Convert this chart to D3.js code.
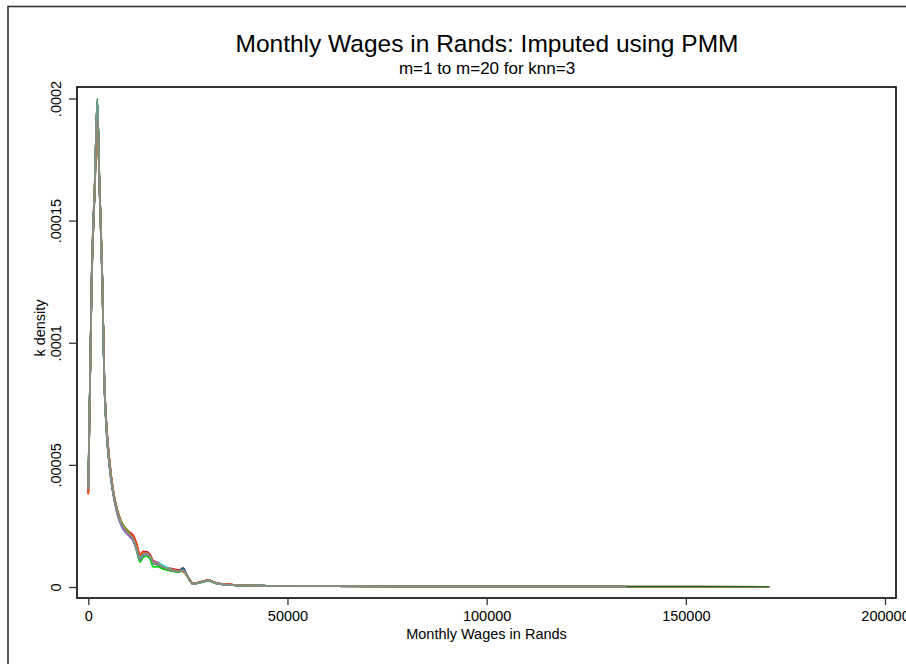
<!DOCTYPE html>
<html>
<head>
<meta charset="utf-8">
<script src="https://cdn.jsdelivr.net/npm/d3@7"></script>
<style>
  html, body { margin: 0; padding: 0; background: #fff; }
  svg { display: block; font-family: "Liberation Sans", Arial, Helvetica, sans-serif; }
</style>
</head>
<body>
<svg id="chart" width="906" height="664"></svg>
<script>
// Evaluation grid (monthly wage, Rands) shared by all imputed density curves
const wages = [0, 850, 1680, 2260, 2760, 3510, 4010, 4610, 5270, 6270, 7300, 8400, 9400, 10300,
  11300, 12100, 13000, 13800, 14600, 15500, 16300, 17200, 18800, 20500, 22500, 23800, 25100,
  26300, 28000, 30100, 32200, 36400, 44800, 60000, 90000, 135000, 171000];

// Kernel density per imputation, in millionths (density x 1e6); null = beyond that imputation's max wage
const m01 = [41, 125, 166, 198, 168, 127, 87, 65, 52, 39, 30.5, 25, 22.5, 21, 19, 15.5, 11, 13, 13.5, 12, 9.8, 9.2, 7.8, 6.8, 6.4, 7.8, 3.6, 1.2, 1.8, 2.5, 1.4, 0.8, 0.5, 0.3, 0.2, 0.15, null];
const m02 = [39, 127, 168, 199, 166, 125, 86, 66, 53, 39.5, 31.5, 26.5, 24, 22.5, 20.5, 17, 12.5, 14.2, 14.4, 13.2, 10.6, 10, 8.4, 7.3, 6.6, 6.6, 3.9, 1.4, 2, 2.7, 1.6, 0.9, 0.5, 0.3, 0.2, 0.15, null];
const m03 = [40, 126, 168, 199, 167, 126, 86, 65, 52, 39, 31, 26, 23.5, 22.5, 21, 18, 13.3, 14.6, 14.4, 13.2, 10.7, 10.2, 8.5, 7.6, 7, 6.3, 3.9, 1.4, 2, 2.7, 1.6, 0.9, 0.5, 0.3, 0.2, 0.15, 0.1];
const m04 = [43, 124, 165, 196, 165, 126, 86, 64, 51, 39, 31, 26, 23, 21.8, 19.8, 16.2, 11.8, 13.4, 13.6, 12.6, 10.2, 9.6, 8.1, 7.1, 6.4, 6.7, 3.8, 1.3, 1.9, 2.6, 1.5, 0.8, 0.5, 0.3, 0.2, 0.15, null];
const m05 = [40, 126, 167, 199, 167, 126, 85, 64, 51, 38.5, 30.5, 25.5, 23, 21.5, 19.5, 16, 11.5, 13.5, 13.8, 12.5, 10, 9.5, 8, 7, 6.4, 6.8, 3.8, 1.3, 1.9, 2.6, 1.5, 0.8, 0.5, 0.3, 0.2, 0.15, null];
const m06 = [38, 128, 169, 198, 166, 125, 84, 64, 52, 39, 31, 25.8, 23.2, 22.4, 20.8, 17.6, 12.9, 14.3, 14.4, 13.1, 10.6, 10.1, 8.4, 7.5, 6.8, 6.6, 3.9, 1.4, 2, 2.8, 1.6, 0.9, 0.5, 0.3, 0.2, 0.15, null];
const m07 = [41, 125, 166, 197, 167, 127, 85, 62, 49.5, 37.5, 29.5, 24.5, 22.3, 20.8, 18.8, 15.4, 10.8, 12.8, 13.3, 12, 9.5, 9.1, 7.7, 6.8, 6.2, 6.9, 3.7, 1.2, 1.8, 2.5, 1.4, 0.8, 0.5, 0.3, 0.2, 0.15, null];
const m08 = [40, 126, 168, 199, 168, 126, 85, 64, 51, 38.5, 30.5, 25.6, 23.1, 21.6, 19.6, 16.1, 11.6, 13.6, 13.9, 12.6, 10.1, 9.5, 8, 7, 6.4, 6.8, 3.8, 1.3, 1.9, 2.6, 1.5, 0.8, 0.5, 0.3, 0.2, 0.15, null];
const m09 = [42, 124, 166, 198, 167, 127, 86, 64, 51, 38.8, 30.8, 25.6, 23, 21.6, 19.8, 16.4, 12, 13.8, 14, 12.7, 10.2, 9.6, 8.1, 7.1, 6.5, 6.7, 3.8, 1.3, 1.9, 2.6, 1.5, 0.8, 0.5, 0.3, 0.2, 0.15, null];
const m10 = [39, 127, 167, 199, 166, 125, 85, 64, 51, 38.4, 30.4, 25.4, 22.9, 21.3, 19.3, 15.9, 11.4, 13.5, 13.8, 12.5, 10, 9.4, 7.9, 7, 6.4, 7, 3.7, 1.2, 1.8, 2.5, 1.5, 0.8, 0.5, 0.3, 0.2, 0.15, null];
const m11 = [41, 126, 167, 199, 167, 126, 85, 64, 51, 38.6, 30.6, 25.5, 23, 21.4, 19.4, 16, 11.6, 13.4, 13.7, 12.4, 10, 9.5, 8, 7, 6.4, 6.8, 3.8, 1.3, 1.9, 2.6, 1.5, 0.8, 0.5, 0.3, 0.2, 0.15, null];
const m12 = [40, 125, 166, 198, 168, 127, 86, 64, 51, 38.5, 30.5, 25.7, 23.3, 21.9, 19.9, 16.3, 11.9, 13.7, 13.9, 12.7, 10.2, 9.6, 8.1, 7.1, 6.4, 6.6, 3.8, 1.3, 1.9, 2.6, 1.5, 0.8, 0.5, 0.3, 0.2, 0.15, null];
const m13 = [41, 126, 167, 199, 167, 126, 85, 64, 51, 38.5, 30.5, 25.5, 23, 21.5, 19.5, 16, 11.5, 13.5, 13.8, 12.5, 10, 9.5, 8, 7, 6.4, 6.8, 3.8, 1.3, 1.9, 2.6, 1.5, 0.8, 0.5, 0.3, 0.2, 0.15, null];
const m14 = [40, 126, 167, 198, 167, 126, 85, 64, 51, 38.5, 30.5, 25.5, 23, 21.5, 19.5, 16, 11.5, 13.5, 13.8, 12.5, 10, 9.5, 8, 7, 6.4, 6.8, 3.8, 1.3, 1.9, 2.6, 1.5, 0.8, 0.5, 0.3, 0.2, 0.15, null];
const m15 = [41, 126, 167, 199, 167, 126, 85, 64, 51, 38.5, 31, 26.3, 23.8, 22.2, 19.4, 15, 10.2, 12.2, 12.6, 11.4, 8.2, 8.3, 7.3, 6.7, 6.1, 6.5, 3.7, 1.3, 1.8, 2.5, 1.4, 0.8, 0.5, 0.3, 0.2, 0.15, null];
const m16 = [42, 126, 167, 200, 169, 127, 85, 63, 50, 38, 30.5, 25.5, 23, 21.5, 19.5, 16, 11.5, 13.6, 13.9, 12.4, 9.9, 9.4, 7.9, 7, 6.4, 6.9, 3.7, 1.3, 1.9, 2.6, 1.5, 0.8, 0.5, 0.3, 0.2, 0.15, 0.1];
const m17 = [39, 125, 166, 198, 167, 126, 85, 64, 50.5, 38, 30, 25, 22.5, 21, 19, 15.6, 11.2, 13.2, 13.5, 12.4, 10.5, 10.3, 8.4, 7.1, 6.4, 6.8, 3.8, 1.3, 1.9, 2.6, 1.5, 0.8, 0.5, 0.3, 0.2, 0.15, null];
const m18 = [41, 126, 167, 199, 167, 126, 85, 64, 51, 38.5, 30.5, 25.5, 23, 21.5, 19.5, 16, 11.5, 13.5, 13.8, 12.5, 10.2, 10, 8.8, 7.5, 6.5, 6.8, 3.8, 1.3, 1.9, 2.6, 1.5, 0.8, 0.5, 0.3, 0.2, 0.15, null];
const m19 = [38, 125, 166, 195, 167, 127, 86, 65, 52, 39, 31, 26, 23.4, 22, 20.4, 17.4, 13, 14.2, 14, 12.8, 10.3, 9.7, 8.1, 7.2, 6.6, 6.5, 3.9, 1.4, 2, 2.7, 1.6, 0.9, 0.5, 0.3, 0.2, 0.15, null];
const m20 = [40, 126, 167, 199, 167, 126, 85, 64, 51, 38.5, 30.5, 25.5, 23, 21.5, 19.5, 16, 11.5, 13.5, 13.8, 12.5, 10, 9.5, 8, 7, 6.4, 6.8, 3.8, 1.3, 1.9, 2.6, 1.5, 0.8, 0.5, 0.3, 0.2, 0.15, null];

const imputations = [m01, m02, m03, m04, m05, m06, m07, m08, m09, m10,
                     m11, m12, m13, m14, m15, m16, m17, m18, m19, m20];

const lineColors = ["#1a476f", "#90353b", "#e8201a", "#e37e00", "#6e8e84",
                    "#c10534", "#938dd2", "#cac27e", "#a0522d", "#7b92a8",
                    "#2d6d66", "#9c8847", "#bfa19c", "#ffd200", "#00dd00",
                    "#1f6b1a", "#c71fc7", "#1fd6d6", "#ff5500", "#7a948e"];

const xTickValues = [0, 50000, 100000, 150000, 200000];
const xTickLabels = ["0", "50000", "100000", "150000", "200000"];
const yTickValues = [0, 0.00005, 0.0001, 0.00015, 0.0002];
const yTickLabels = ["0", ".00005", ".0001", ".00015", ".0002"];

const titleText = "Monthly Wages in Rands: Imputed using PMM";
const subtitleText = "m=1 to m=20 for knn=3";
const xTitleText = "Monthly Wages in Rands";
const yTitleText = "k density";

// ---- layout ----
const frame = { left: 77, top: 87, right: 896, bottom: 598 };
const svg = d3.select("#chart");

svg.append("rect").attr("width", 906).attr("height", 664).attr("fill", "#fff");

// outer graph border (runs off the right and bottom edges)
svg.append("rect")
  .attr("x", 8).attr("y", 6.5).attr("width", 1000).attr("height", 1000)
  .attr("fill", "none").attr("stroke", "#333").attr("stroke-width", 1.6);

const x = d3.scaleLinear().domain([0, 200000]).range([88.3, 885]);
const y = d3.scaleLinear().domain([0, 0.0002]).range([587, 98.5]);

// titles
svg.append("text").attr("x", 487).attr("y", 52)
  .attr("text-anchor", "middle").attr("font-size", 24.5).attr("fill", "#000")
  .text(titleText);
svg.append("text").attr("x", 487).attr("y", 74)
  .attr("text-anchor", "middle").attr("font-size", 17).attr("fill", "#000")
  .text(subtitleText);

// density curves
const line = d3.line()
  .defined(d => d[1] !== null)
  .x(d => x(d[0]))
  .y(d => y(d[1] / 1e6))
  .curve(d3.curveMonotoneX);

const curves = svg.append("g").attr("class", "curves");
imputations.forEach((vals, i) => {
  const pts = wages.map((w, j) => [w, vals[j]]);
  curves.append("path")
    .attr("d", line(pts))
    .attr("fill", "none")
    .attr("stroke", lineColors[i])
    .attr("stroke-width", 1.7)
    .attr("stroke-linejoin", "round");
});

// plot region border
svg.append("rect")
  .attr("x", frame.left).attr("y", frame.top)
  .attr("width", frame.right - frame.left).attr("height", frame.bottom - frame.top)
  .attr("fill", "none").attr("stroke", "#000").attr("stroke-width", 1.6);

// y axis
const yAxis = svg.append("g")
  .attr("transform", `translate(${frame.left},0)`)
  .call(d3.axisLeft(y).tickValues(yTickValues).tickSize(8)
    .tickFormat((d, i) => yTickLabels[i]));
yAxis.select(".domain").remove();
yAxis.selectAll(".tick line").attr("stroke", "#333").attr("stroke-width", 1.3);
yAxis.selectAll(".tick text")
  .attr("x", null).attr("dy", null)
  .attr("text-anchor", "middle")
  .attr("transform", "translate(-16,0) rotate(-90)")
  .attr("font-size", 14.5).attr("fill", "#000")
  .attr("font-family", "Liberation Sans, Arial, sans-serif");

// x axis
const xAxis = svg.append("g")
  .attr("transform", `translate(0,${frame.bottom})`)
  .call(d3.axisBottom(x).tickValues(xTickValues).tickSize(7).tickPadding(5.5)
    .tickFormat((d, i) => xTickLabels[i]));
xAxis.select(".domain").remove();
xAxis.selectAll(".tick line").attr("stroke", "#333").attr("stroke-width", 1.3);
xAxis.selectAll(".tick text")
  .attr("font-size", 14.5).attr("fill", "#000")
  .attr("font-family", "Liberation Sans, Arial, sans-serif");

// axis titles
svg.append("text").attr("x", 486.5).attr("y", 639)
  .attr("text-anchor", "middle").attr("font-size", 14.5).attr("fill", "#000")
  .text(xTitleText);
svg.append("text")
  .attr("transform", "translate(45,328) rotate(-90)")
  .attr("text-anchor", "middle").attr("font-size", 14.5).attr("fill", "#000")
  .text(yTitleText);
</script>
</body>
</html>
